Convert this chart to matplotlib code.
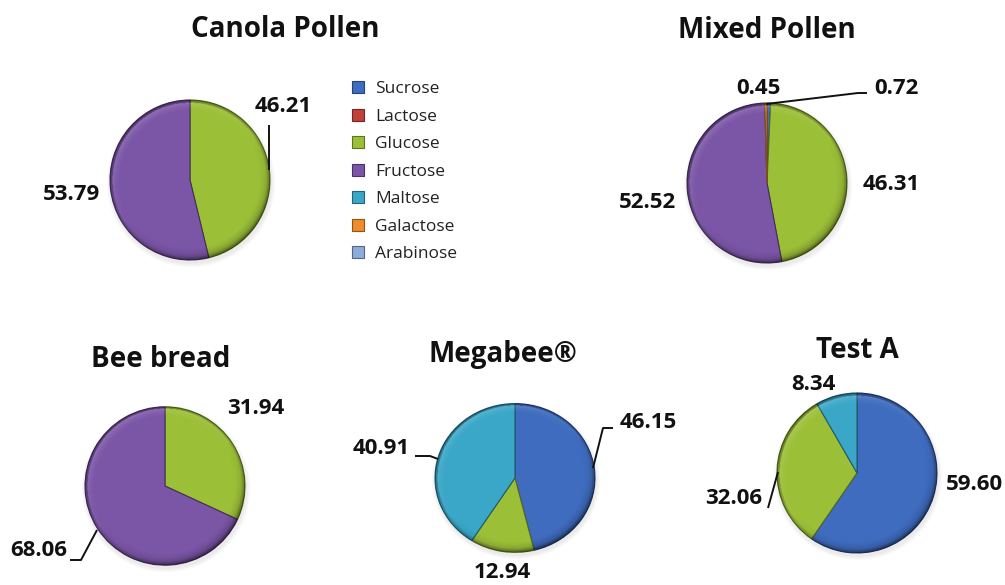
import numpy as np
import matplotlib
matplotlib.use("Agg")
import matplotlib.pyplot as plt
from matplotlib.patches import Patch, Circle
from matplotlib.transforms import Affine2D
from matplotlib.colors import to_rgb

plt.rcParams["font.family"] = ["Open Sans", "DejaVu Sans"]

W, H = 1005, 585

# Sugar composition (%) of each feed
sugars = ["Sucrose", "Lactose", "Glucose", "Fructose", "Maltose", "Galactose", "Arabinose"]
sugar_colors = ["#3f6cbf", "#c0403a", "#9cbf38", "#7b55a6", "#3aa6c8", "#ee8c2a", "#8eabd9"]

titles = ["Canola Pollen", "Mixed Pollen", "Bee bread", "Megabee\u00ae", "Test A"]
canola_pollen = [0, 0, 46.21, 53.79, 0, 0, 0]
mixed_pollen = [0.72, 0, 46.31, 52.52, 0, 0.45, 0]
bee_bread = [0, 0, 31.94, 68.06, 0, 0, 0]
megabee = [46.15, 0, 12.94, 0, 40.91, 0, 0]
test_a = [59.60, 0, 32.06, 0, 8.34, 0, 0]
feeds = [canola_pollen, mixed_pollen, bee_bread, megabee, test_a]

# Panel layout in pixel units (y measured from the top of the figure)
layout = [
    dict(center=(190, 180), r=80, sy=1.0, title=(285, 37),
         labels={"Glucose": (283, 106), "Fructose": (71, 194)},
         leaders=[[(269, 170), (269, 125)]]),
    dict(center=(767, 183), r=80, sy=1.0, title=(767, 38),
         labels={"Sucrose": (896, 89), "Galactose": (758, 89),
                 "Glucose": (891, 185), "Fructose": (648, 202)},
         leaders=[[(766, 104), (858, 93), (867, 93)]]),
    dict(center=(165, 486), r=80, sy=0.99, title=(161, 367),
         labels={"Glucose": (256, 409), "Fructose": (39, 550)},
         leaders=[[(70, 560), (81, 560), (97, 530)]]),
    dict(center=(515, 478), r=80, sy=0.93, title=(503, 362),
         labels={"Sucrose": (648, 423), "Glucose": (502, 573), "Maltose": (381, 448)},
         leaders=[[(593, 468), (603, 428), (613, 428)],
                  [(415, 456), (430, 456), (438, 459)]]),
    dict(center=(857, 473), r=80, sy=1.0, title=(857, 358),
         labels={"Sucrose": (974, 485), "Glucose": (734, 499), "Maltose": (813, 384)},
         leaders=[[(768, 508), (778, 472)]]),
]


def darker(c, f=0.6):
    return tuple(np.array(to_rgb(c)) * f)


fig = plt.figure(figsize=(W / 100, H / 100), dpi=100)
ax = fig.add_axes([0, 0, 1, 1])


def bevel_overlay(cx, cy, r, sy):
    """Rim shading that gives each pie a slightly raised look."""
    n = 240
    xs = np.linspace(-1, 1, n)
    X, Y = np.meshgrid(xs, xs[::-1])
    rho = np.hypot(X, Y) + 1e-9
    nx, ny = X / rho, Y / rho
    light = np.array([-0.55, 0.83])
    dot = nx * light[0] + ny * light[1]
    rim = np.clip((rho - 0.86) / 0.14, 0, 1) ** 1.4
    rgba = np.zeros((n, n, 4))
    rgba[..., :3] = np.where(dot[..., None] > 0, 1.0, 0.0)
    alpha = rim * np.abs(dot) * np.where(dot > 0, 0.22, 0.30)
    edge = np.clip((rho - 0.955) / 0.045, 0, 1)
    alpha = alpha + edge * 0.22
    rgba[..., :3] = np.where((edge[..., None] > 0.3), 0.0, rgba[..., :3])
    rgba[..., 3] = np.clip(alpha, 0, 1)
    cyd = H - cy
    im = ax.imshow(rgba, extent=(cx - r, cx + r, cyd - r * sy, cyd + r * sy),
                   interpolation="bilinear", zorder=3, aspect="auto")
    clip = Circle((cx, cyd), r, transform=Affine2D().translate(-cx, -cyd)
                  .scale(1, sy).translate(cx, cyd) + ax.transData)
    im.set_clip_path(clip)


for vals, title, lay in zip(feeds, titles, layout):
    cx, cy = lay["center"]
    cyd = H - cy
    r, sy = lay["r"], lay["sy"]
    keep = [i for i, v in enumerate(vals) if v > 0]
    sizes = [vals[i] for i in keep]
    cols = [sugar_colors[i] for i in keep]
    tr = Affine2D().translate(-cx, -cyd).scale(1, sy).translate(cx, cyd) + ax.transData

    # soft drop shadow
    for k in range(3):
        sh = Circle((cx + 1, cyd - 3), r + 1 + k * 1.5, color="#808080", alpha=0.05,
                    lw=0, zorder=1, transform=tr)
        ax.add_patch(sh)

    wedges, _ = ax.pie(sizes, colors=cols, startangle=90, counterclock=False,
                       center=(cx, cyd), radius=r, frame=True,
                       wedgeprops=dict(linewidth=0.8))
    for w, c in zip(wedges, cols):
        w.set_edgecolor(darker(c, 0.55))
        w.set_transform(tr)
        w.set_zorder(2)
    bevel_overlay(cx, cy, r, sy)

    tx, ty = lay["title"]
    ax.text(tx, H - ty, title, ha="center", va="baseline", fontsize=20,
            fontweight="bold", color="#111111", zorder=5)

    for name, (lx, ly) in lay["labels"].items():
        v = vals[sugars.index(name)]
        ax.text(lx, H - ly, f"{v:.2f}", ha="center", va="center", fontsize=16,
                fontweight="bold", color="#111111", zorder=5)

    for pts in lay["leaders"]:
        px = [p[0] for p in pts]
        py = [H - p[1] for p in pts]
        ax.plot(px, py, color="#111111", lw=1.4, zorder=5, solid_capstyle="butt")

handles = [Patch(facecolor=c, edgecolor=darker(c, 0.6), linewidth=0.8) for c in sugar_colors]
leg = ax.legend(handles, sugars, loc="upper left", bbox_to_anchor=(352 / W, 1 - 81 / H),
                bbox_transform=fig.transFigure, frameon=False, fontsize=12.5,
                handlelength=0.7, handleheight=0.7, handletextpad=0.65,
                labelspacing=0.655, borderpad=0, borderaxespad=0)
for t in leg.get_texts():
    t.set_color("#222222")

ax.set_xlim(0, W)
ax.set_ylim(0, H)
ax.set_aspect("auto")
ax.axis("off")

fig.savefig("out.png", dpi=100, facecolor="white")
